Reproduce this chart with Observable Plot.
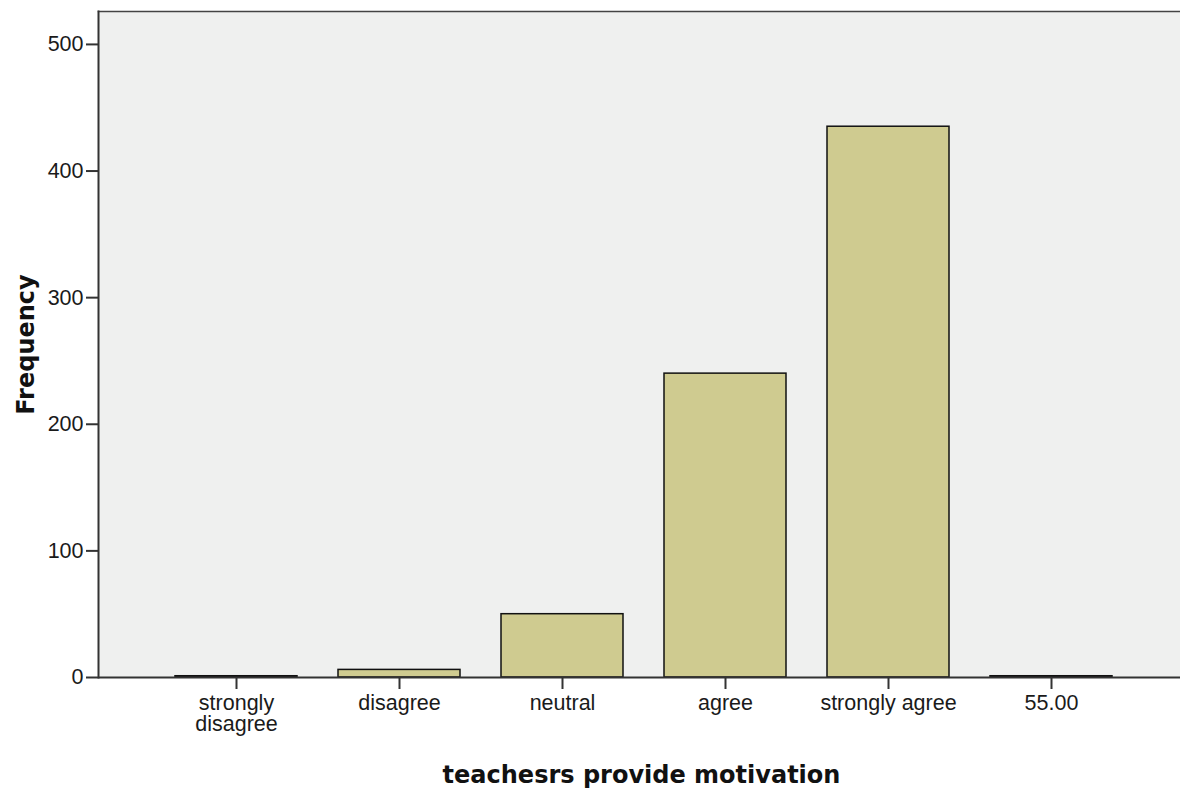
<!DOCTYPE html>
<html><head><meta charset="utf-8">
<script src="https://cdn.jsdelivr.net/npm/d3@7"></script>
<script src="https://cdn.jsdelivr.net/npm/@observablehq/plot@0.6"></script>
<style>body{margin:0;background:#fff}</style>
</head><body><div id="chart"></div>
<script>
const categories = ["strongly disagree", "disagree", "neutral", "agree", "strongly agree", "55.00"];
const tickLabels = ["strongly\ndisagree", "disagree", "neutral", "agree", "strongly agree", "55.00"];
const frequencies = [1, 6, 50, 240, 435, 1];
const yTicks = [0, 100, 200, 300, 400, 500];
const xTitle = "teachesrs provide motivation";
const yTitle = "Frequency";

const data = categories.map((c, i) => ({category: c, frequency: frequencies[i]}));
const labelOf = new Map(categories.map((c, i) => [c, tickLabels[i]]));
const titleFont = "'DejaVu Sans', Verdana, sans-serif";

const chart = Plot.plot({
  width: 1180, height: 791,
  marginTop: 11, marginBottom: 114, marginLeft: 98, marginRight: 0,
  style: {fontFamily: "'Liberation Sans', Arial, sans-serif", fontSize: "21.5px", color: "#1a1a1a", background: "#fff"},
  x: {type: "band", domain: categories, range: [98, 1190], paddingInner: 0.25, paddingOuter: 0.46},
  y: {domain: [0, 526]},
  marks: [
    Plot.frame({fill: "#eff0ef", stroke: null}),
    Plot.frame({anchor: "top", stroke: "#444", strokeWidth: 1.5}),
    Plot.barY(data, {x: "category", y: "frequency", fill: "#cfcb90", stroke: "#111", strokeWidth: 1.5}),
    Plot.ruleY([0], {stroke: "#333", strokeWidth: 2}),
    Plot.axisY({ticks: yTicks, tickSize: 12, tickPadding: 3, label: null, stroke: "#333", strokeWidth: 2}),
    Plot.axisX({tickSize: 12, tickPadding: 5, tickFormat: d => labelOf.get(d), label: null, stroke: "#333", strokeWidth: 2}),
    Plot.frame({anchor: "left", stroke: "#333", strokeWidth: 2}),
    Plot.text([xTitle], {frameAnchor: "bottom", dx: 2, dy: 98, lineAnchor: "middle", textAnchor: "middle", text: d => d, fontSize: 24, fontWeight: "bold", fontFamily: titleFont, fill: "#111"}),
    Plot.text([yTitle], {frameAnchor: "left", dx: -72, rotate: -90, lineAnchor: "middle", textAnchor: "middle", text: d => d, fontSize: 24, fontWeight: "bold", fontFamily: titleFont, fill: "#111"})
  ]
});
document.getElementById("chart").appendChild(chart);
</script>
</body></html>
